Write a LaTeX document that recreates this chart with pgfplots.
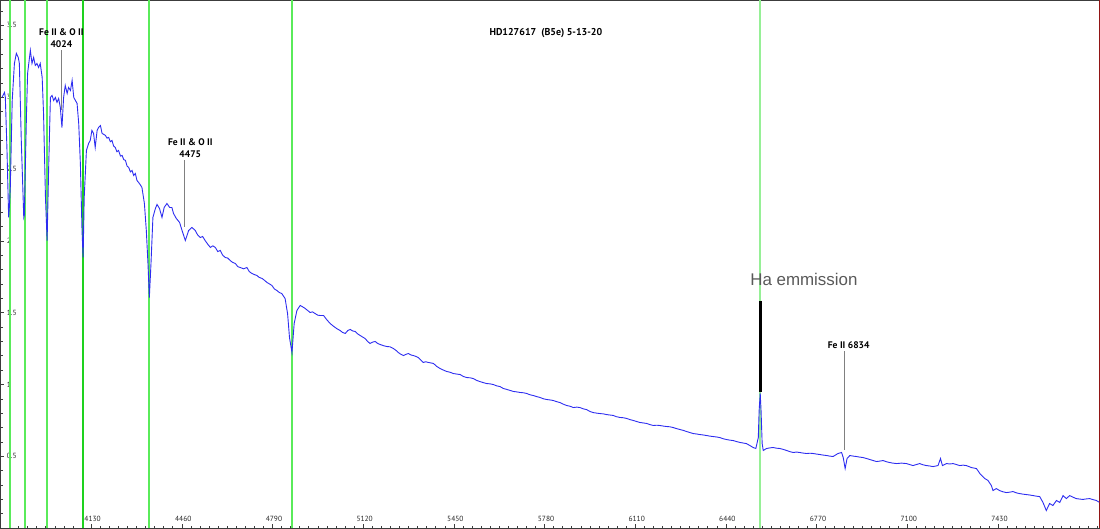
\documentclass[border=0pt]{standalone}
\usepackage{fontspec}
\setmainfont{PT Sans}
\newfontfamily\arialf{Liberation Sans}
\usepackage{pgfplots}
\pgfplotsset{compat=1.18}
\definecolor{specblue}{RGB}{45,45,240}
\definecolor{lgreen}{RGB}{90,235,90}
\definecolor{dgreen}{RGB}{30,210,30}
\definecolor{hagreen}{RGB}{150,240,150}
\definecolor{axgray}{RGB}{60,60,60}
\begin{document}
\begin{tikzpicture}
\begin{axis}[
  width=1100bp, height=528bp, scale only axis,
  xmin=3800, xmax=7800, ymin=0, ymax=3.674,
  axis line style={axgray, line width=0.8bp},
  xtick={4130,4460,4790,5120,5450,5780,6110,6440,6770,7100,7430},
  minor xtick={3833,3866,...,7799},
  ytick={0.5,1,1.5,2,2.5,3,3.5},
  minor ytick={0.1,0.2,...,3.65},
  xtick pos=bottom, ytick pos=left,
  tick align=inside,
  major tick length=4bp, minor tick length=2.5bp,
  tick style={axgray, line width=0.5bp},
  /pgf/number format/assume math mode=true,
  /pgf/number format/1000 sep={},
  x tick label style={font=\fontsize{7.5}{8}\selectfont, anchor=south, yshift=3bp, xshift=1.5bp, text=black!85},
  y tick label style={font=\fontsize{7.5}{8}\selectfont, anchor=west, xshift=3bp, text=black!85},
  clip=true,
]
% Balmer marker lines
\addplot[lgreen, line width=1.8bp] coordinates {(3836,0) (3836,3.674)};
\addplot[lgreen, line width=1.8bp] coordinates {(3890,0) (3890,3.674)};
\addplot[lgreen, line width=1.8bp] coordinates {(3971,0) (3971,3.674)};
\addplot[dgreen, line width=2bp] coordinates {(4102,0) (4102,3.674)};
\addplot[lgreen, line width=1.8bp] coordinates {(4341,0) (4341,3.674)};
\addplot[lgreen, line width=1.8bp] coordinates {(4862,0) (4862,3.674)};
\addplot[hagreen, line width=1.8bp] coordinates {(6565,0) (6565,3.674)};
% spectrum
\addplot[specblue, line width=0.9bp] table {
3806 3.000
3815 3.033
3818 2.998
3824 2.629
3830 2.163
3833 2.246
3836 2.372
3843 2.978
3851 3.235
3858 3.305
3865 3.277
3869 3.235
3876 2.699
3885 2.163
3887 2.177
3895 2.887
3899 3.166
3909 3.326
3915 3.235
3921 3.277
3927 3.221
3933 3.235
3939 3.207
3945 3.235
3952 3.138
3957 2.887
3964 2.302
3970 2.002
3976 2.539
3982 2.998
3988 3.012
3994 2.977
4000 2.998
4006 2.964
4012 2.991
4018 2.929
4024 2.789
4030 2.998
4036 3.082
4043 3.026
4048 3.068
4055 3.047
4061 3.117
4067 2.998
4073 2.977
4079 2.957
4085 2.817
4091 2.539
4097 2.072
4101 1.884
4105 2.302
4113 2.629
4121 2.678
4127 2.699
4133 2.769
4139 2.748
4145 2.650
4152 2.769
4157 2.789
4164 2.803
4170 2.748
4176 2.741
4182 2.734
4188 2.715
4194 2.720
4200 2.690
4206 2.699
4212 2.660
4218 2.650
4224 2.620
4230 2.629
4237 2.590
4243 2.594
4249 2.565
4255 2.560
4261 2.520
4267 2.511
4273 2.480
4279 2.490
4285 2.455
4291 2.469
4297 2.420
4303 2.406
4309 2.390
4315 2.372
4324 2.260
4331 2.072
4337 1.842
4342 1.605
4348 1.842
4355 2.163
4364 2.225
4370 2.253
4379 2.225
4388 2.163
4396 2.232
4406 2.260
4416 2.232
4424 2.232
4430 2.190
4440 2.156
4452 2.128
4461 2.072
4473 2.002
4485 2.072
4497 2.093
4509 2.072
4518 2.040
4527 2.023
4536 2.030
4545 2.002
4555 1.975
4564 1.954
4573 1.965
4582 1.954
4591 1.925
4600 1.933
4609 1.900
4618 1.884
4627 1.880
4636 1.863
4645 1.850
4655 1.842
4664 1.820
4673 1.814
4685 1.805
4697 1.814
4706 1.785
4715 1.773
4724 1.765
4733 1.759
4742 1.745
4752 1.738
4761 1.725
4770 1.710
4779 1.700
4788 1.689
4797 1.665
4806 1.654
4815 1.640
4824 1.633
4836 1.598
4845 1.494
4852 1.327
4861 1.222
4869 1.424
4879 1.515
4891 1.550
4900 1.540
4909 1.529
4918 1.515
4927 1.501
4936 1.505
4945 1.494
4955 1.482
4964 1.480
4976 1.480
4988 1.450
5000 1.424
5009 1.410
5018 1.397
5027 1.385
5036 1.376
5045 1.362
5055 1.355
5064 1.375
5073 1.383
5082 1.372
5091 1.369
5100 1.352
5109 1.341
5118 1.330
5127 1.320
5136 1.300
5145 1.285
5155 1.295
5164 1.299
5173 1.285
5182 1.278
5194 1.270
5206 1.264
5218 1.262
5230 1.250
5239 1.238
5248 1.222
5257 1.210
5267 1.201
5276 1.210
5285 1.215
5294 1.205
5303 1.201
5312 1.195
5321 1.187
5330 1.170
5339 1.153
5348 1.158
5357 1.153
5366 1.150
5376 1.146
5388 1.125
5400 1.111
5412 1.100
5424 1.090
5436 1.085
5448 1.076
5461 1.072
5473 1.069
5485 1.055
5497 1.048
5509 1.046
5521 1.041
5533 1.028
5545 1.020
5558 1.012
5570 1.006
5582 1.004
5594 0.999
5606 0.990
5618 0.985
5630 0.972
5643 0.965
5655 0.958
5667 0.951
5679 0.948
5691 0.944
5703 0.942
5715 0.937
5727 0.928
5739 0.923
5752 0.915
5764 0.909
5776 0.900
5788 0.895
5800 0.892
5812 0.888
5824 0.880
5836 0.874
5849 0.862
5861 0.853
5873 0.848
5885 0.839
5897 0.842
5909 0.839
5921 0.830
5933 0.825
5945 0.812
5957 0.804
5970 0.800
5982 0.797
5994 0.795
6006 0.790
6018 0.787
6030 0.784
6042 0.775
6055 0.770
6067 0.768
6079 0.763
6091 0.755
6103 0.749
6115 0.742
6127 0.735
6139 0.732
6152 0.728
6164 0.720
6176 0.714
6188 0.716
6200 0.714
6212 0.710
6224 0.707
6236 0.705
6248 0.700
6261 0.692
6273 0.686
6285 0.680
6297 0.672
6309 0.665
6321 0.658
6333 0.655
6345 0.651
6358 0.648
6370 0.644
6382 0.640
6394 0.637
6406 0.634
6418 0.630
6430 0.622
6443 0.616
6455 0.612
6467 0.609
6479 0.602
6491 0.596
6503 0.592
6515 0.588
6527 0.575
6539 0.561
6549 0.554
6558 0.630
6561 0.818
6565 0.937
6568 0.818
6572 0.589
6576 0.540
6588 0.554
6600 0.558
6612 0.561
6624 0.556
6636 0.554
6648 0.548
6661 0.540
6673 0.532
6685 0.526
6697 0.529
6709 0.526
6721 0.522
6734 0.519
6746 0.521
6758 0.519
6770 0.515
6782 0.512
6794 0.508
6806 0.505
6818 0.501
6830 0.498
6848 0.519
6861 0.526
6867 0.491
6874 0.414
6881 0.484
6891 0.505
6903 0.501
6915 0.498
6927 0.494
6939 0.491
6952 0.484
6964 0.477
6976 0.470
6988 0.463
7000 0.466
7012 0.470
7024 0.462
7036 0.456
7048 0.452
7061 0.449
7079 0.452
7097 0.449
7109 0.442
7121 0.435
7133 0.442
7145 0.449
7158 0.440
7170 0.435
7182 0.432
7194 0.428
7212 0.435
7221 0.484
7228 0.435
7243 0.449
7255 0.446
7267 0.449
7279 0.442
7291 0.435
7303 0.438
7315 0.435
7334 0.421
7352 0.414
7364 0.380
7382 0.345
7394 0.331
7406 0.296
7412 0.261
7424 0.275
7436 0.261
7449 0.252
7461 0.247
7473 0.250
7485 0.254
7497 0.245
7509 0.240
7521 0.236
7534 0.233
7546 0.230
7558 0.226
7570 0.222
7582 0.219
7594 0.178
7606 0.122
7618 0.171
7630 0.157
7643 0.192
7655 0.178
7667 0.226
7679 0.205
7691 0.226
7703 0.215
7715 0.205
7727 0.202
7739 0.199
7752 0.203
7764 0.205
7776 0.198
7788 0.192
7800 0.178
};
% pointer lines
\addplot[gray, line width=0.9bp] coordinates {(4021,3.326) (4021,2.908)};
\addplot[gray, line width=0.9bp] coordinates {(4470,2.560) (4470,2.093)};
\addplot[black, line width=2.6bp] coordinates {(6566,1.584) (6566,0.944)};
\addplot[gray, line width=0.9bp] coordinates {(6873,1.231) (6873,0.540)};
% right border
\addplot[red!75!black, line width=1bp] coordinates {(7799.5,0) (7799.5,3.674)};
% texts
\node[font=\fontsize{9.6}{12}\selectfont\bfseries, align=center, inner sep=0pt] at (axis cs:4022,3.41) {Fe II \& O II\\4024};
\node[font=\fontsize{9.6}{12}\selectfont\bfseries, align=center, inner sep=0pt] at (axis cs:4491,2.643) {Fe II \& O II\\4475};
\node[font=\fontsize{9.6}{12}\selectfont\bfseries, inner sep=0pt] at (axis cs:6887,1.271) {Fe II 6834};
\node[font=\fontsize{10}{12}\selectfont\bfseries, inner sep=0pt] at (axis cs:5785,3.444) {HD127617\ \ (B5e) 5-13-20};
\node[font=\arialf\fontsize{17}{20}\selectfont, text=black!65, inner sep=0pt] at (axis cs:6724,1.731) {Ha emmission};
\end{axis}
\end{tikzpicture}
\end{document}
